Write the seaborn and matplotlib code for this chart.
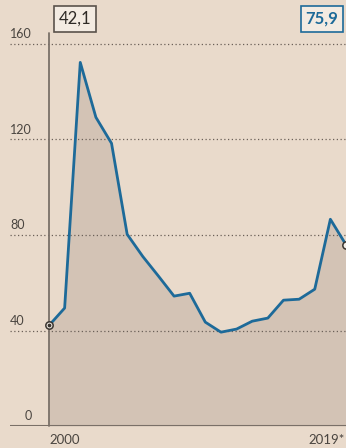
import matplotlib
matplotlib.use("Agg")
import matplotlib.pyplot as plt
import seaborn as sns
import pandas as pd

years = list(range(2000, 2020))
values = [42.1, 49.4, 152.3, 129.3, 118.4, 80.3, 71.0, 62.8, 54.4, 55.6,
          43.5, 39.3, 40.6, 43.9, 45.2, 52.7, 53.1, 57.3, 86.6, 75.9]
yticks = [0, 40, 80, 120, 160]
first_label = "42,1"
last_label = "75,9"
xlabels = ["2000", "2019*"]

bg = "#e9dacb"
fill_c = "#d3c3b5"
line_c = "#1d6a99"
axis_c = "#7a7068"
text_c = "#4a4540"

sns.set_theme(style="white")
plt.rcParams['font.family'] = ['Lato', 'DejaVu Sans']

W, H = 346, 448
fig = plt.figure(figsize=(W / 100, H / 100), dpi=100, facecolor=bg)
ax = fig.add_axes([10 / W, (H - 426) / H, (W - 10) / W, 426 / H])
ax.set_facecolor(bg)

px_per_year = (346 - 49) / 19
x_left = 2000 - (49 - 10) / px_per_year
ax.set_xlim(x_left, 2019)
px_per_unit = (426 - 44) / 160
ax.set_ylim(0, 426 / px_per_unit)

df = pd.DataFrame({"year": years, "value": values})
ax.fill_between(df["year"], 0, df["value"], color=fill_c, zorder=1, linewidth=0)
sns.lineplot(data=df, x="year", y="value", ax=ax, color=line_c, linewidth=2.0,
             zorder=3, legend=False)

for t in yticks[1:]:
    ax.axhline(t, color="#6b6058", linestyle=(0, (1, 2)), linewidth=0.9, zorder=2)
    ax.text(x_left, t + 1.6, str(t), fontsize=9, color=text_c, ha="left", va="bottom")
ax.text(x_left + 0.95, 1.6, "0", fontsize=9, color=text_c, ha="left", va="bottom")
ax.axhline(0, color=axis_c, linewidth=1.5, zorder=4)

ax.plot([2000, 2000], [0, (426 - 33) / px_per_unit], color=axis_c, linewidth=1.3,
        zorder=4, clip_on=False)

ax.scatter([years[0]], [values[0]], s=28, facecolor="#f5efe8", edgecolor="#3a3530",
           linewidth=1.1, zorder=5)
ax.scatter([years[0]], [values[0]], s=3, color="#3a3530", zorder=6)
ax.scatter([years[-1]], [values[-1]], s=28, facecolor="#f5efe8", edgecolor="#3a3530",
           linewidth=1.1, zorder=5, clip_on=False)

ax.set_xticks([])
ax.set_yticks([])
ax.set_xlabel("")
ax.set_ylabel("")
for s in ax.spines.values():
    s.set_visible(False)

fig.text(75 / W, 1 - 19 / H, first_label, fontsize=12, color="#2e2a26", ha="center",
         va="center", bbox=dict(boxstyle="square,pad=0.3", facecolor="#f3ebe2",
                                edgecolor="#5a524b", linewidth=1.2))
fig.text(322 / W, 1 - 19 / H, last_label, fontsize=12, color=line_c, ha="center",
         va="center", fontweight="bold",
         bbox=dict(boxstyle="square,pad=0.3", facecolor="#f3ebe2",
                   edgecolor=line_c, linewidth=1.2))

fig.text(49 / W, 1 - 440 / H, xlabels[0], fontsize=9.5, color=text_c, ha="left", va="center")
fig.text(345 / W, 1 - 440 / H, xlabels[1], fontsize=9.5, color=text_c, ha="right", va="center")

fig.savefig("out.png", dpi=100, facecolor=bg)
